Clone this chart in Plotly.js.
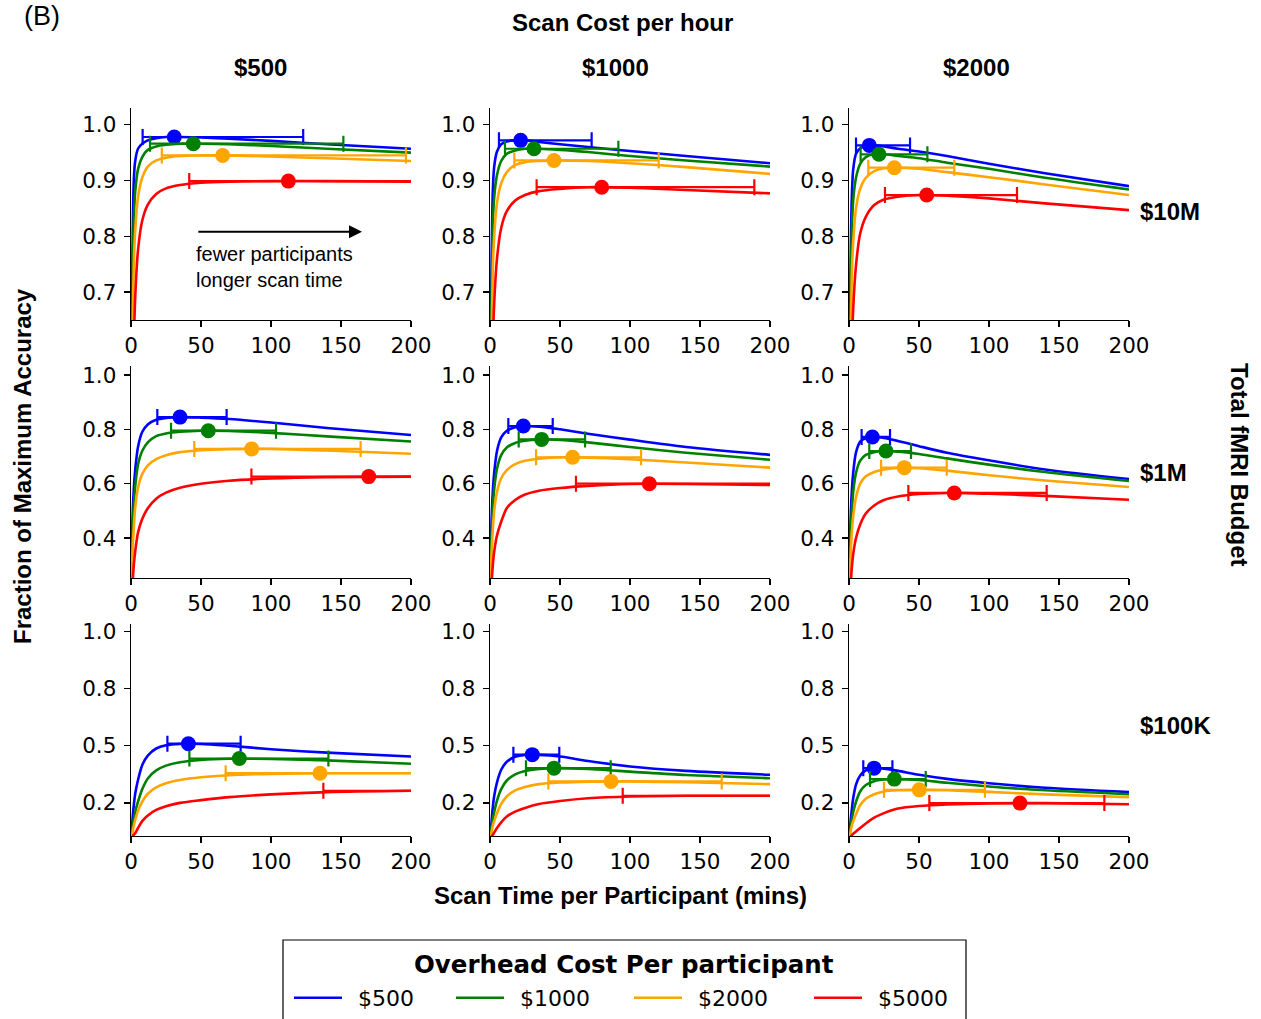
<!DOCTYPE html>
<html>
<head>
<meta charset="utf-8">
<script src="https://cdn.plot.ly/plotly-3.0.1.min.js"></script>
<style>
  html, body { margin: 0; padding: 0; background: #fff; }
  #chart { width: 1261px; height: 1019px; }
</style>
</head>
<body>
<div id="chart"></div>
<script>
// Scan time per participant (mins) at which every curve is sampled
const scanTime = [0.5, 1, 2, 3, 5, 8, 12, 18, 25, 35, 50, 70, 100, 140, 200];

const scanCosts = ['$500', '$1000', '$2000'];         // columns: scan cost per hour
const budgets = ['$10M', '$1M', '$100K'];             // rows: total fMRI budget
const overheads = ['$500', '$1000', '$2000', '$5000'];
const colors = ['#0000ff', '#008000', '#ffa500', '#ff0000'];

// Fraction of maximum accuracy; one row per overhead cost ($500, $1000, $2000, $5000)
const acc_10M_500 = [
  [0.55, 0.75, 0.90, 0.935, 0.957, 0.966, 0.972, 0.976, 0.978, 0.978, 0.977, 0.975, 0.971, 0.965, 0.957],
  [0.50, 0.68, 0.83, 0.88, 0.92, 0.942, 0.955, 0.961, 0.964, 0.966, 0.966, 0.965, 0.962, 0.957, 0.950],
  [0.40, 0.60, 0.75, 0.81, 0.87, 0.905, 0.925, 0.936, 0.941, 0.944, 0.945, 0.945, 0.943, 0.940, 0.935],
  [0.20, 0.40, 0.60, 0.69, 0.775, 0.828, 0.857, 0.876, 0.886, 0.892, 0.896, 0.898, 0.899, 0.899, 0.898]
];
const acc_10M_1000 = [
  [0.55, 0.72, 0.88, 0.925, 0.952, 0.965, 0.970, 0.972, 0.972, 0.969, 0.965, 0.960, 0.953, 0.944, 0.931],
  [0.50, 0.67, 0.82, 0.87, 0.91, 0.935, 0.948, 0.954, 0.957, 0.957, 0.955, 0.951, 0.944, 0.936, 0.925],
  [0.40, 0.58, 0.74, 0.80, 0.86, 0.895, 0.915, 0.928, 0.933, 0.935, 0.936, 0.935, 0.931, 0.924, 0.912],
  [0.20, 0.40, 0.60, 0.68, 0.76, 0.815, 0.845, 0.864, 0.874, 0.881, 0.885, 0.888, 0.887, 0.883, 0.877]
];
const acc_10M_2000 = [
  [0.55, 0.72, 0.87, 0.92, 0.948, 0.958, 0.962, 0.963, 0.961, 0.957, 0.952, 0.944, 0.930, 0.913, 0.890],
  [0.50, 0.66, 0.81, 0.865, 0.905, 0.930, 0.942, 0.947, 0.947, 0.944, 0.940, 0.932, 0.921, 0.905, 0.884],
  [0.40, 0.57, 0.73, 0.79, 0.85, 0.885, 0.905, 0.917, 0.922, 0.923, 0.921, 0.915, 0.906, 0.893, 0.874],
  [0.20, 0.40, 0.59, 0.67, 0.748, 0.805, 0.835, 0.856, 0.866, 0.871, 0.874, 0.873, 0.868, 0.859, 0.847]
];
const acc_1M_500 = [
  [0.30, 0.45, 0.58, 0.65, 0.735, 0.790, 0.818, 0.835, 0.842, 0.845, 0.843, 0.838, 0.825, 0.805, 0.779],
  [0.27, 0.40, 0.52, 0.59, 0.67, 0.720, 0.752, 0.775, 0.785, 0.791, 0.795, 0.794, 0.787, 0.774, 0.755],
  [0.25, 0.34, 0.44, 0.51, 0.585, 0.635, 0.667, 0.690, 0.705, 0.716, 0.723, 0.727, 0.728, 0.722, 0.710],
  [0.15, 0.22, 0.30, 0.35, 0.42, 0.47, 0.51, 0.545, 0.567, 0.585, 0.600, 0.611, 0.619, 0.624, 0.626]
];
const acc_1M_1000 = [
  [0.30, 0.44, 0.57, 0.64, 0.72, 0.77, 0.795, 0.808, 0.812, 0.810, 0.800, 0.784, 0.762, 0.735, 0.706],
  [0.27, 0.39, 0.51, 0.58, 0.655, 0.705, 0.733, 0.750, 0.758, 0.763, 0.761, 0.752, 0.735, 0.714, 0.688],
  [0.25, 0.33, 0.43, 0.50, 0.57, 0.62, 0.65, 0.672, 0.684, 0.692, 0.697, 0.696, 0.690, 0.678, 0.659],
  [0.15, 0.22, 0.30, 0.35, 0.41, 0.46, 0.51, 0.54, 0.56, 0.574, 0.584, 0.592, 0.599, 0.599, 0.595]
];
const acc_1M_2000 = [
  [0.30, 0.44, 0.57, 0.64, 0.715, 0.755, 0.768, 0.772, 0.768, 0.757, 0.738, 0.714, 0.686, 0.652, 0.617],
  [0.27, 0.38, 0.50, 0.57, 0.64, 0.685, 0.706, 0.716, 0.720, 0.718, 0.709, 0.693, 0.670, 0.643, 0.610],
  [0.25, 0.32, 0.42, 0.48, 0.55, 0.60, 0.627, 0.643, 0.652, 0.658, 0.657, 0.648, 0.631, 0.612, 0.588],
  [0.15, 0.21, 0.29, 0.34, 0.40, 0.45, 0.49, 0.52, 0.54, 0.553, 0.562, 0.566, 0.563, 0.555, 0.541]
];
const acc_100K_500 = [
  [0.12, 0.17, 0.24, 0.29, 0.35, 0.415, 0.457, 0.488, 0.502, 0.508, 0.508, 0.500, 0.485, 0.470, 0.453],
  [0.11, 0.14, 0.18, 0.21, 0.255, 0.31, 0.357, 0.392, 0.413, 0.428, 0.438, 0.443, 0.442, 0.436, 0.421],
  [0.10, 0.12, 0.15, 0.175, 0.215, 0.255, 0.29, 0.318, 0.336, 0.350, 0.362, 0.371, 0.377, 0.380, 0.380],
  [0.09, 0.10, 0.11, 0.117, 0.14, 0.17, 0.195, 0.219, 0.235, 0.250, 0.262, 0.275, 0.287, 0.297, 0.303]
];
const acc_100K_1000 = [
  [0.12, 0.16, 0.23, 0.28, 0.34, 0.395, 0.43, 0.452, 0.460, 0.460, 0.453, 0.433, 0.409, 0.390, 0.373],
  [0.11, 0.14, 0.18, 0.21, 0.26, 0.31, 0.348, 0.375, 0.390, 0.399, 0.402, 0.398, 0.387, 0.372, 0.358],
  [0.10, 0.12, 0.15, 0.17, 0.205, 0.245, 0.278, 0.305, 0.320, 0.332, 0.339, 0.343, 0.344, 0.340, 0.332],
  [0.09, 0.10, 0.11, 0.12, 0.14, 0.165, 0.19, 0.212, 0.228, 0.245, 0.258, 0.270, 0.278, 0.281, 0.281]
];
const acc_100K_2000 = [
  [0.12, 0.16, 0.22, 0.27, 0.33, 0.37, 0.392, 0.402, 0.400, 0.390, 0.373, 0.355, 0.336, 0.316, 0.297],
  [0.11, 0.14, 0.18, 0.21, 0.255, 0.30, 0.328, 0.345, 0.352, 0.354, 0.350, 0.338, 0.322, 0.305, 0.288],
  [0.10, 0.12, 0.15, 0.17, 0.20, 0.24, 0.268, 0.288, 0.300, 0.305, 0.307, 0.305, 0.298, 0.287, 0.275],
  [0.09, 0.10, 0.108, 0.115, 0.125, 0.14, 0.16, 0.185, 0.205, 0.225, 0.236, 0.243, 0.248, 0.249, 0.244]
];

// Optimal scan time (dot) with its near-optimal range; one row per scan cost column
const optTime_10M = [[30.9, 44.5, 65.5, 112.4], [21.9, 31.4, 45.7, 79.8], [14.5, 21.4, 32.4, 55.5]];
const optAcc_10M  = [[0.978, 0.966, 0.945, 0.899], [0.972, 0.957, 0.936, 0.888], [0.963, 0.947, 0.923, 0.874]];
const lowTime_10M = [[8.3, 13.6, 22, 41.6], [6.4, 10.7, 17.4, 33.3], [5, 8.3, 13.8, 25.7]];
const highTime_10M = [[123, 151.7, 196.4, 260], [72.6, 91.7, 120.5, 188.8], [43.6, 56, 75.2, 120]];

const optTime_1M = [[35, 55.2, 86.2, 169.8], [23.8, 36.9, 59, 113.8], [16.7, 26.4, 39.5, 75.2]];
const optAcc_1M  = [[0.845, 0.795, 0.728, 0.626], [0.812, 0.763, 0.697, 0.600], [0.772, 0.720, 0.659, 0.566]];
const lowTime_1M = [[18.8, 28.6, 45.2, 86], [13.1, 20.5, 32.9, 61.4], [9, 14.5, 22.9, 42.4]];
const highTime_1M = [[68.3, 103.6, 164, 260], [44.8, 67.9, 107.9, 260], [29.3, 44.3, 69.8, 141.2]];

const optTime_100K = [[41, 77.4, 135, 240], [30.2, 45.7, 86.4, 230], [17.9, 32.4, 50.2, 122.1]];
const optAcc_100K  = [[0.509, 0.444, 0.380, 0.303], [0.461, 0.402, 0.344, 0.281], [0.402, 0.354, 0.307, 0.249]];
const lowTime_100K = [[26, 41.7, 67.6, 137.4], [16.7, 25.7, 41.7, 94.8], [10.2, 15, 25, 57.4]];
const highTime_100K = [[78.3, 141, 240, 300], [49.5, 86.2, 165.5, 300], [31, 54.8, 97.1, 182.4]];

const xTicks = [0, 50, 100, 150, 200];
const yTicks_10M = [0.7, 0.8, 0.9, 1.0];
const yTicks_1M = [0.4, 0.6, 0.8, 1.0];
const yTicks_100K = [0.25, 0.5, 0.75, 1.0];
const yTickText_100K = ['0.2', '0.5', '0.8', '1.0'];

// ---- figure assembly ----
const W = 1261, H = 1019;
const px = v => v / W;
const py = v => 1 - v / H;

const panelAcc = [
  [acc_10M_500, acc_10M_1000, acc_10M_2000],
  [acc_1M_500, acc_1M_1000, acc_1M_2000],
  [acc_100K_500, acc_100K_1000, acc_100K_2000]
];
const optTime = [optTime_10M, optTime_1M, optTime_100K];
const optAcc = [optAcc_10M, optAcc_1M, optAcc_100K];
const lowTime = [lowTime_10M, lowTime_1M, lowTime_100K];
const highTime = [highTime_10M, highTime_1M, highTime_100K];

const colPx = [[131, 411], [490, 770], [849, 1129]];
const rowPx = [[108, 320], [366, 578], [624, 836]];
const yRanges = [[0.65, 1.03], [0.253, 1.033], [0.105, 1.033]];
const yTickVals = [yTicks_10M, yTicks_1M, yTicks_100K];

// each overhead entry gets its own one-item legend so the row can be spaced freely
const legendIds = ['legend', 'legend2', 'legend3', 'legend4'];
const legendLineStart = [297, 459, 637, 817];

const tickFont = { family: 'DejaVu Sans', size: 21.5, color: '#000' };
const legendFont = { family: 'DejaVu Sans', size: 22, color: '#000' };
const traces = [];
const layout = {
  width: W, height: H,
  margin: { l: 0, r: 0, t: 0, b: 0 },
  paper_bgcolor: '#fff', plot_bgcolor: '#fff',
  showlegend: true,
  annotations: [],
  shapes: [{
    type: 'rect', xref: 'paper', yref: 'paper',
    x0: px(283), x1: px(966), y0: py(1030), y1: py(940),
    line: { color: '#000', width: 1.2 }, fillcolor: 'rgba(0,0,0,0)', layer: 'below'
  }]
};
legendIds.forEach((id, k) => {
  layout[id] = {
    orientation: 'h',
    x: px(legendLineStart[k] - 8), xanchor: 'left',
    y: py(998), yanchor: 'middle',
    bgcolor: 'rgba(0,0,0,0)', borderwidth: 0,
    font: legendFont, itemwidth: 48
  };
});

for (let r = 0; r < 3; r++) {
  for (let c = 0; c < 3; c++) {
    const p = r * 3 + c + 1;
    const xa = p === 1 ? 'x' : 'x' + p;
    const ya = p === 1 ? 'y' : 'y' + p;
    const xKey = p === 1 ? 'xaxis' : 'xaxis' + p;
    const yKey = p === 1 ? 'yaxis' : 'yaxis' + p;

    layout[xKey] = {
      domain: [px(colPx[c][0]), px(colPx[c][1])],
      anchor: ya, range: [0, 200], tickvals: xTicks,
      showline: true, linecolor: '#000', linewidth: 1.3,
      ticks: 'outside', ticklen: 6, tickwidth: 1.3, tickcolor: '#000',
      showgrid: false, zeroline: false, tickfont: tickFont, fixedrange: true
    };
    const yAxis = {
      domain: [py(rowPx[r][1]), py(rowPx[r][0])],
      anchor: xa, range: yRanges[r], tickvals: yTickVals[r],
      showline: true, linecolor: '#000', linewidth: 1.3,
      ticks: 'outside', ticklen: 6, tickwidth: 1.3, tickcolor: '#000',
      ticklabelstandoff: 3,
      showgrid: false, zeroline: false, tickfont: tickFont, fixedrange: true
    };
    if (r === 2) yAxis.ticktext = yTickText_100K;
    else yAxis.tickformat = '.1f';
    layout[yKey] = yAxis;

    // accuracy curves
    for (let k = 0; k < 4; k++) {
      traces.push({
        x: scanTime, y: panelAcc[r][c][k],
        xaxis: xa, yaxis: ya,
        mode: 'lines', name: '\u2002' + overheads[k],
        legend: legendIds[k], showlegend: p === 1,
        line: { color: colors[k], width: 2.6, shape: 'spline', smoothing: 0.8 },
        hoverinfo: 'skip'
      });
    }
    // optimum dots and near-optimal ranges
    for (let k = 0; k < 4; k++) {
      const t = optTime[r][c][k];
      traces.push({
        x: [t], y: [optAcc[r][c][k]],
        xaxis: xa, yaxis: ya,
        mode: 'markers', showlegend: false,
        marker: { color: colors[k], size: 15, line: { width: 0 } },
        error_x: {
          type: 'data', symmetric: false,
          array: [highTime[r][c][k] - t], arrayminus: [t - lowTime[r][c][k]],
          color: colors[k], thickness: 2.2, width: 8
        },
        hoverinfo: 'skip'
      });
    }
  }
}

const boldFont = { family: 'Liberation Sans, Arial, sans-serif', size: 24, color: '#000' };
const paperText = (text, x, y, extra) => Object.assign({
  text, xref: 'paper', yref: 'paper', x: px(x), y: py(y),
  xanchor: 'center', yanchor: 'middle', showarrow: false, font: boldFont
}, extra || {});

layout.annotations.push(
  paperText('(B)', 42, 16, { font: { family: 'Liberation Sans, Arial, sans-serif', size: 27, color: '#000' } }),
  paperText('<b>Scan Cost per hour</b>', 622, 22),
  paperText('<b>' + scanCosts[0] + '</b>', 260, 67),
  paperText('<b>' + scanCosts[1] + '</b>', 615, 67),
  paperText('<b>' + scanCosts[2] + '</b>', 976, 67),
  paperText('<b>' + budgets[0] + '</b>', 1138, 212, { xanchor: 'left' }),
  paperText('<b>' + budgets[1] + '</b>', 1138, 472, { xanchor: 'left' }),
  paperText('<b>' + budgets[2] + '</b>', 1138, 725, { xanchor: 'left' }),
  paperText('<b>Total fMRI Budget</b>', 1240, 465, { textangle: 90 }),
  paperText('<b>Fraction of Maximum Accuracy</b>', 22, 466, { textangle: -90 }),
  paperText('<b>Scan Time per Participant (mins)</b>', 620, 895),
  paperText('<b>Overhead Cost Per participant</b>', 624, 964,
            { font: { family: 'DejaVu Sans', size: 24.5, color: '#000' } }),
  // direction hint inside the top-left panel
  {
    xref: 'x', yref: 'y', x: 165, y: 0.808, axref: 'x', ayref: 'y', ax: 47, ay: 0.808,
    text: '', showarrow: true, arrowhead: 2, arrowsize: 1.3, arrowwidth: 2,
    arrowcolor: '#000', standoff: 0, startstandoff: 0
  },
  {
    xref: 'x', yref: 'y', x: 45.0, y: 0.7456, xanchor: 'left', yanchor: 'middle',
    align: 'left', showarrow: false,
    text: 'fewer participants<br>longer scan time',
    font: { family: 'Liberation Sans, Arial, sans-serif', size: 20, color: '#000' }
  }
);

Plotly.newPlot('chart', traces, layout, { displayModeBar: false, staticPlot: true });
</script>
</body>
</html>
